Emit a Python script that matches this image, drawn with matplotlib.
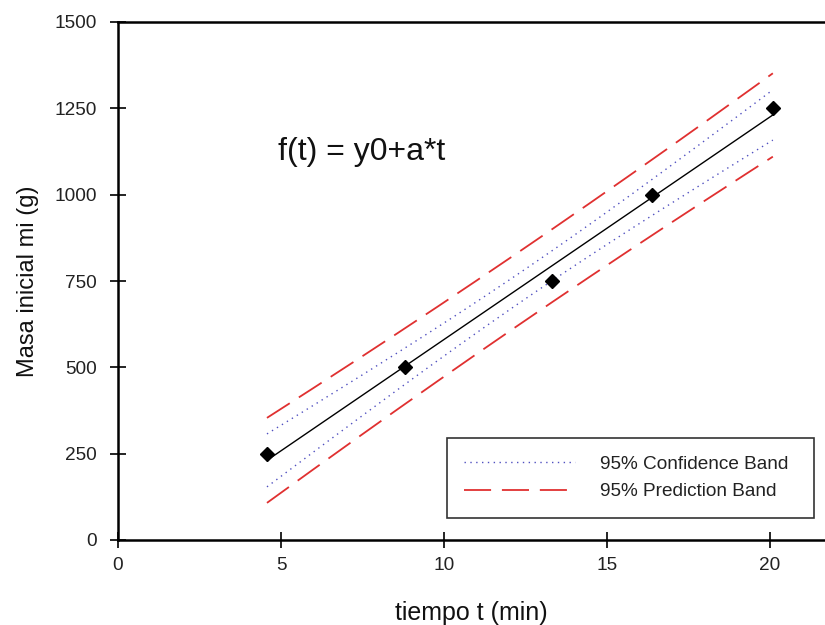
import numpy as np
import matplotlib
matplotlib.use("Agg")
import matplotlib.pyplot as plt
from matplotlib.lines import Line2D

# Data
tiempo = np.array([4.57, 8.80, 13.31, 16.38, 20.09])
masa = np.array([250, 500, 750, 1000, 1250])
x_ticks = [0, 5, 10, 15, 20]
y_ticks = [0, 250, 500, 750, 1000, 1250, 1500]
t_crit = 3.182  # Student t, 95%, df = 3

# Linear regression f(t) = y0 + a*t and its bands
a, y0 = np.polyfit(tiempo, masa, 1)
n = len(tiempo)
resid = masa - (y0 + a * tiempo)
s = np.sqrt(np.sum(resid ** 2) / (n - 2))
sxx = np.sum((tiempo - tiempo.mean()) ** 2)
tt = np.linspace(tiempo.min(), tiempo.max(), 200)
fit = y0 + a * tt
conf = t_crit * s * np.sqrt(1 / n + (tt - tiempo.mean()) ** 2 / sxx)
pred = t_crit * s * np.sqrt(1 + 1 / n + (tt - tiempo.mean()) ** 2 / sxx)

plt.rcParams['font.family'] = ['Liberation Sans', 'DejaVu Sans']
fig = plt.figure(figsize=(8.25, 6.25), dpi=100)
ax = fig.add_axes([118 / 825, 1 - 540 / 625, 1 - 118 / 825, (540 - 22) / 625])

blue = '#5050c0'
red = '#e03030'
dot_style = (0, (1, 3.2))
dash_style = (0, (15, 6))
ax.plot(tt, fit, color='black', lw=1.0)
ax.plot(tt, fit + conf, color=blue, lw=1.0, linestyle=dot_style)
ax.plot(tt, fit - conf, color=blue, lw=1.0, linestyle=dot_style)
ax.plot(tt, fit + pred, color=red, lw=1.3, linestyle=dash_style)
ax.plot(tt, fit - pred, color=red, lw=1.3, linestyle=dash_style)
ax.plot(tiempo, masa, 'D', color='black', markersize=7, linestyle='none')

ax.set_xlim(0, 21.69)
ax.set_ylim(0, 1500)
ax.set_xticks(x_ticks)
ax.set_yticks(y_ticks)
ax.spines['right'].set_visible(False)
for sp in ['left', 'top', 'bottom']:
    ax.spines[sp].set_linewidth(1.8)
ax.tick_params(direction='inout', length=11, width=1.2, labelsize=13.7,
               colors='black', labelcolor='#222222')
ax.tick_params(axis='x', pad=7)
ax.tick_params(axis='y', pad=9.5)

ax.set_xlabel('tiempo t (min)', fontsize=18, labelpad=19, color='#111111')
ax.set_ylabel('Masa inicial mi (g)', fontsize=17, labelpad=11, color='#111111')

ax.text(4.91, 1124, 'f(t) = y0+a*t', fontsize=23, ha='left', va='center', color='#111111')

handles = [
    Line2D([], [], color=blue, lw=1.0, linestyle=dot_style),
    Line2D([], [], color=red, lw=1.3, linestyle=dash_style),
]
leg = ax.legend(handles, ['95% Confidence Band', '95% Prediction Band'],
                loc='lower left', bbox_to_anchor=(0.465, 0.0425, 0.52, 0.152),
                mode='expand', fontsize=13.7, frameon=True, fancybox=False,
                handlelength=5.8, handletextpad=1.3, borderpad=0.93, labelspacing=0.54,
                borderaxespad=0)
leg.get_frame().set_edgecolor('black')
leg.get_frame().set_linewidth(1.2)
for txt in leg.get_texts():
    txt.set_color('#222222')

fig.savefig('out.png', dpi=100)
